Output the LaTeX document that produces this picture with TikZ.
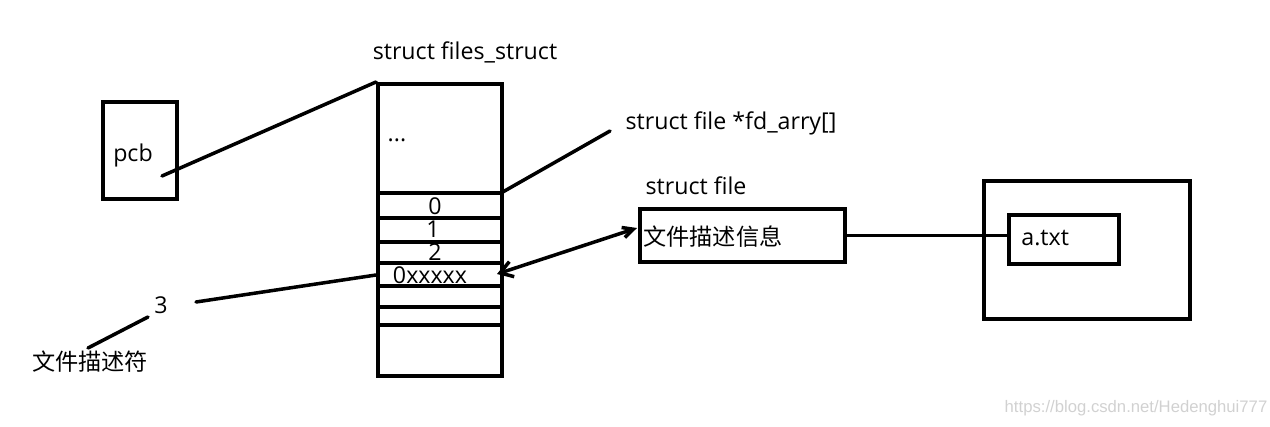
\documentclass[tikz,border=0pt]{standalone}
\usepackage{fontspec}
\setmainfont{Open Sans}
\newfontfamily\cjk{Noto Sans CJK SC}
\newfontfamily\wmfont{Liberation Sans}
\usetikzlibrary{arrows.meta}

\newcommand{\px}{0.02cm}

\begin{document}
\begin{tikzpicture}[x=0.02cm, y=-0.02cm,
    every node/.style={font=\fontsize{13.2}{15}\selectfont, inner sep=0pt},
    box/.style={draw, line width=2pt, anchor=north west},
    wire/.style={line width=2pt, line cap=round},
    tip/.style={arrows={Straight Barb[length=7pt,width=9pt]-Straight Barb[length=6pt,width=6pt]}},
  ]
  \useasboundingbox (0,0) rectangle (1270,426);

  % boxes
  \node[box, minimum width=74*\px, minimum height=97*\px] (pcb) at (101,100) {};
  \node (pcbtxt) at (133,155) {pcb};
  \node[box, minimum width=124*\px, minimum height=292*\px] (files) at (376,82) {};
  \node[box, minimum width=205*\px, minimum height=53*\px] (fbox) at (638,207) {};
  \node[box, minimum width=206*\px, minimum height=138*\px] (disk) at (982,179) {};
  \node[box, minimum width=110*\px, minimum height=49*\px] (atxt) at (1007,213) {};

  % titles
  \node (fstitle) at (465,52) {struct files\_struct};
  \node (fdtitle) at (731,123) {struct file *fd\_arry[]};
  \node (ftitle)  at (696,186) {struct file};

  % array cells
  \foreach \y [count=\i] in {193,218,242,263,286,307,325}
    \draw[wire, line cap=butt] (376,\y) -- (500,\y);
  \node (dots) at (397,140) {...};
  \node (idx0) at (435,206) {0};
  \node (idx1) at (433,229) {1};
  \node (idx2) at (435,252) {2};
  \node (addr) at (430,275) {0xxxxx};

  % texts
  \node[anchor=west] (fdesc) at (643,237) {\cjk 文件描述信息};
  \node[anchor=west] (atxtname) at (1021,238) {a.txt};
  \node (three) at (161,305) {3};
  \node (fdname) at (90,362) {\cjk 文件描述符};

  % connectors
  \coordinate (pcbend) at (162,176);
  \coordinate (c0) at (501,193);
  \coordinate (fdend) at (610,131);
  \coordinate (slot) at (497,274);
  \coordinate (fin) at (637,228);
  \coordinate (threeend) at (196,302);
  \coordinate (slotin) at (376,275);
  \coordinate (nameend) at (88,348);
  \coordinate (nametop) at (148,317);

  \draw[wire] (pcbend) -- (files.north west);
  \draw[wire] (c0) -- (fdend);
  \draw[wire, tip] (slot) -- (fin);
  \draw[wire] (fbox.east) -- (fbox.east -| atxt.west);
  \draw[wire] (threeend) -- (slotin);
  \draw[wire] (nameend) -- (nametop);

  % watermark
  \node[text=black!18, font=\wmfont\fontsize{9.5}{11}\selectfont] (wm) at (1136,408) {https://blog.csdn.net/Hedenghui777};
\end{tikzpicture}
\end{document}
